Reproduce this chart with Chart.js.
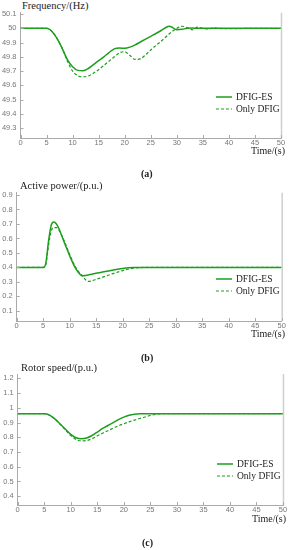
<!DOCTYPE html>
<html>
<head>
<meta charset="utf-8">
<script src="https://cdn.jsdelivr.net/npm/chart.js@4.4.1/dist/chart.umd.min.js"></script>
<style>
  body { margin: 0; background: #fff; width: 293px; height: 550px; position: relative; overflow: hidden; }
  .box { position: absolute; left: 0; width: 293px; }
  .txt { position: absolute; font-family: "Liberation Serif", serif; font-size: 10.5px; color: #222; white-space: nowrap; }
  .tm { font-size: 10px; }
  .cap { font-weight: bold; font-size: 10px; }
</style>
</head>
<body>

<div class="txt" style="left:22px;top:0px;">Frequency/(Hz)</div>
<div class="box" style="top:0px;height:150px;"><canvas id="chartA"></canvas></div>
<div class="txt tm" style="left:251px;top:145px;">Time/(s)</div>
<div class="txt cap" style="left:141px;top:168px;">(a)</div>

<div class="txt" style="left:20px;top:180px;">Active power/(p.u.)</div>
<div class="box" style="top:180px;height:153px;"><canvas id="chartB"></canvas></div>
<div class="txt tm" style="left:251px;top:328px;">Time/(s)</div>
<div class="txt cap" style="left:141px;top:352px;">(b)</div>

<div class="txt" style="left:21px;top:362px;">Rotor speed/(p.u.)</div>
<div class="box" style="top:360px;height:157px;"><canvas id="chartC"></canvas></div>
<div class="txt tm" style="left:252px;top:513px;">Time/(s)</div>
<div class="txt cap" style="left:142px;top:537px;">(c)</div>

<script>
// series names
const seriesNames = ['DFIG-ES', 'Only DFIG'];
const timeTicks = [0, 5, 10, 15, 20, 25, 30, 35, 40, 45, 50];

// (a) frequency
const freqTime = [0, 5, 5.5, 6, 7, 8, 9, 10, 11, 12, 13, 14, 15, 16, 17, 18, 19, 20, 21, 22, 23, 24, 25, 26, 27, 28, 28.5, 29, 30, 31, 32, 33, 34, 35, 36, 37, 38, 40, 45, 50];
const freqES = [50, 50, 49.995, 49.98, 49.93, 49.86, 49.78, 49.73, 49.705, 49.703, 49.718, 49.745, 49.773, 49.8, 49.83, 49.856, 49.862, 49.86, 49.868, 49.884, 49.904, 49.924, 49.944, 49.964, 49.985, 50.008, 50.015, 50.01, 49.99, 49.993, 50.0, 50.002, 50.0, 50.0, 50.0, 50.0, 50.0, 50.0, 50.0, 50.0];
const freqDFIG = [50, 50, 49.995, 49.98, 49.93, 49.86, 49.77, 49.7, 49.667, 49.66, 49.665, 49.685, 49.71, 49.74, 49.77, 49.8, 49.828, 49.836, 49.81, 49.782, 49.786, 49.814, 49.848, 49.88, 49.91, 49.943, 49.96, 49.975, 50.0, 50.015, 50.005, 49.99, 50.008, 50.0, 49.994, 50.004, 50.0, 49.998, 50.0, 50.0];
const freqTicks = [49.3, 49.4, 49.5, 49.6, 49.7, 49.8, 49.9, 50, 50.1];

// (b) active power
const powerTime = [0, 5, 5.5, 6, 6.5, 7, 7.5, 8, 9, 10, 11, 12, 12.5, 13, 13.5, 14, 15, 16, 18, 20, 22, 25, 30, 50];
const powerES = [0.4, 0.4, 0.43, 0.58, 0.69, 0.713, 0.7, 0.665, 0.57, 0.48, 0.4, 0.35, 0.343, 0.345, 0.348, 0.352, 0.36, 0.366, 0.38, 0.392, 0.399, 0.4, 0.4, 0.4];
const powerDFIG = [0.4, 0.4, 0.42, 0.55, 0.65, 0.675, 0.675, 0.655, 0.58, 0.49, 0.41, 0.355, 0.335, 0.315, 0.303, 0.305, 0.318, 0.33, 0.355, 0.378, 0.395, 0.4, 0.4, 0.4];
const powerTicks = [0.1, 0.2, 0.3, 0.4, 0.5, 0.6, 0.7, 0.8, 0.9];

// (c) rotor speed
const speedTime = [0, 5, 5.5, 6, 7, 8, 9, 10, 11, 12, 13, 14, 15, 16, 17, 18, 19, 20, 21, 22, 23, 24, 25, 26, 27, 30, 50];
const speedES = [0.96, 0.96, 0.958, 0.95, 0.925, 0.89, 0.855, 0.82, 0.797, 0.79, 0.795, 0.812, 0.835, 0.86, 0.88, 0.9, 0.92, 0.937, 0.95, 0.957, 0.96, 0.96, 0.96, 0.96, 0.96, 0.96, 0.96];
const speedDFIG = [0.96, 0.96, 0.958, 0.95, 0.925, 0.888, 0.85, 0.812, 0.785, 0.775, 0.778, 0.79, 0.81, 0.828, 0.845, 0.862, 0.878, 0.892, 0.905, 0.917, 0.928, 0.938, 0.948, 0.955, 0.96, 0.96, 0.96];
const speedTicks = [0.4, 0.5, 0.6, 0.7, 0.8, 0.9, 1, 1.1, 1.2];

const green = '#1e9e1e';

// legenda dentro da área do gráfico, borda direita e marcas de escala para dentro
const innerLegend = {
  id: 'innerLegend',
  afterDraw(chart, args, opts) {
    const { ctx, chartArea } = chart;
    const xs = chart.scales.x, ys = chart.scales.y;
    ctx.save();
    // borda direita cinza
    ctx.strokeStyle = '#cfcfcf';
    ctx.lineWidth = 1.5;
    ctx.beginPath();
    ctx.moveTo(chartArea.right + 0.5, chartArea.top);
    ctx.lineTo(chartArea.right + 0.5, chartArea.bottom);
    ctx.stroke();

    // marcas de escala
    ctx.strokeStyle = '#aaa';
    ctx.lineWidth = 1;
    ctx.beginPath();
    xs.ticks.forEach(t => {
      const px = Math.round(xs.getPixelForValue(t.value)) + 0.5;
      ctx.moveTo(px, chartArea.bottom);
      ctx.lineTo(px, chartArea.bottom - 3);
    });
    ys.ticks.forEach(t => {
      const py = Math.round(ys.getPixelForValue(t.value)) + 0.5;
      ctx.moveTo(chartArea.left, py);
      ctx.lineTo(chartArea.left + 3, py);
    });
    ctx.stroke();

    ctx.font = '9.5px "Liberation Serif", serif';
    ctx.textBaseline = 'middle';
    chart.data.datasets.forEach((ds, i) => {
      const y = opts.top + i * 12;
      ctx.strokeStyle = ds.borderColor;
      ctx.lineWidth = ds.borderWidth;
      ctx.setLineDash(ds.borderDash || []);
      ctx.beginPath();
      ctx.moveTo(opts.left, y);
      ctx.lineTo(opts.left + 16, y);
      ctx.stroke();
      ctx.setLineDash([]);
      ctx.fillStyle = '#222';
      ctx.fillText(ds.label, opts.left + 20, y);
    });
    ctx.restore();
  }
};

function makeChart(id, times, es, dfig, ticks, yMin, yMax, yWidth, padTop, padRight, legendPos) {
  const canvas = document.getElementById(id);
  const box = canvas.parentNode;
  canvas.width = 293;
  canvas.height = box.clientHeight;
  return new Chart(canvas.getContext('2d'), {
    type: 'line',
    data: {
      datasets: [
        {
          label: seriesNames[0],
          data: times.map((t, i) => ({ x: t, y: es[i] })),
          borderColor: green,
          borderWidth: 1.5,
          pointRadius: 0,
          cubicInterpolationMode: 'monotone'
        },
        {
          label: seriesNames[1],
          data: times.map((t, i) => ({ x: t, y: dfig[i] })),
          borderColor: green,
          borderWidth: 1.2,
          borderDash: [3, 2],
          pointRadius: 0,
          cubicInterpolationMode: 'monotone'
        }
      ]
    },
    options: {
      responsive: false,
      animation: false,
      layout: { padding: { top: padTop, right: padRight, left: 0, bottom: 0 } },
      plugins: {
        legend: { display: false },
        tooltip: { enabled: false },
        innerLegend: legendPos
      },
      scales: {
        x: {
          type: 'linear',
          min: 0,
          max: 50,
          afterBuildTicks: s => { s.ticks = timeTicks.map(v => ({ value: v })); },
          afterFit: s => { s.height = 12; },
          grid: { drawOnChartArea: false, drawTicks: false },
          border: { color: '#aaa', width: 1 },
          ticks: { color: '#777', font: { family: '"Liberation Sans", sans-serif', size: 7.5 }, padding: 0, maxRotation: 0 }
        },
        y: {
          min: yMin,
          max: yMax,
          afterBuildTicks: s => { s.ticks = ticks.map(v => ({ value: v })); },
          afterFit: s => { s.width = yWidth; },
          grid: { drawOnChartArea: false, drawTicks: false },
          border: { color: '#aaa', width: 1 },
          ticks: {
            color: '#777',
            font: { family: '"Liberation Sans", sans-serif', size: 7.5 },
            padding: 4,
            callback: v => String(+v.toFixed(2))
          }
        }
      }
    },
    plugins: [innerLegend]
  });
}

makeChart('chartA', freqTime, freqES, freqDFIG, freqTicks, 49.23, 50.11, 20.5, 12.7, 12, { left: 216, top: 97 });
makeChart('chartB', powerTime, powerES, powerDFIG, powerTicks, 0.03, 0.916, 16.7, 12.7, 11.3, { left: 216, top: 99 });
makeChart('chartC', speedTime, speedES, speedDFIG, speedTicks, 0.34, 1.23, 17.7, 14, 10, { left: 217, top: 104 });
</script>
</body>
</html>
